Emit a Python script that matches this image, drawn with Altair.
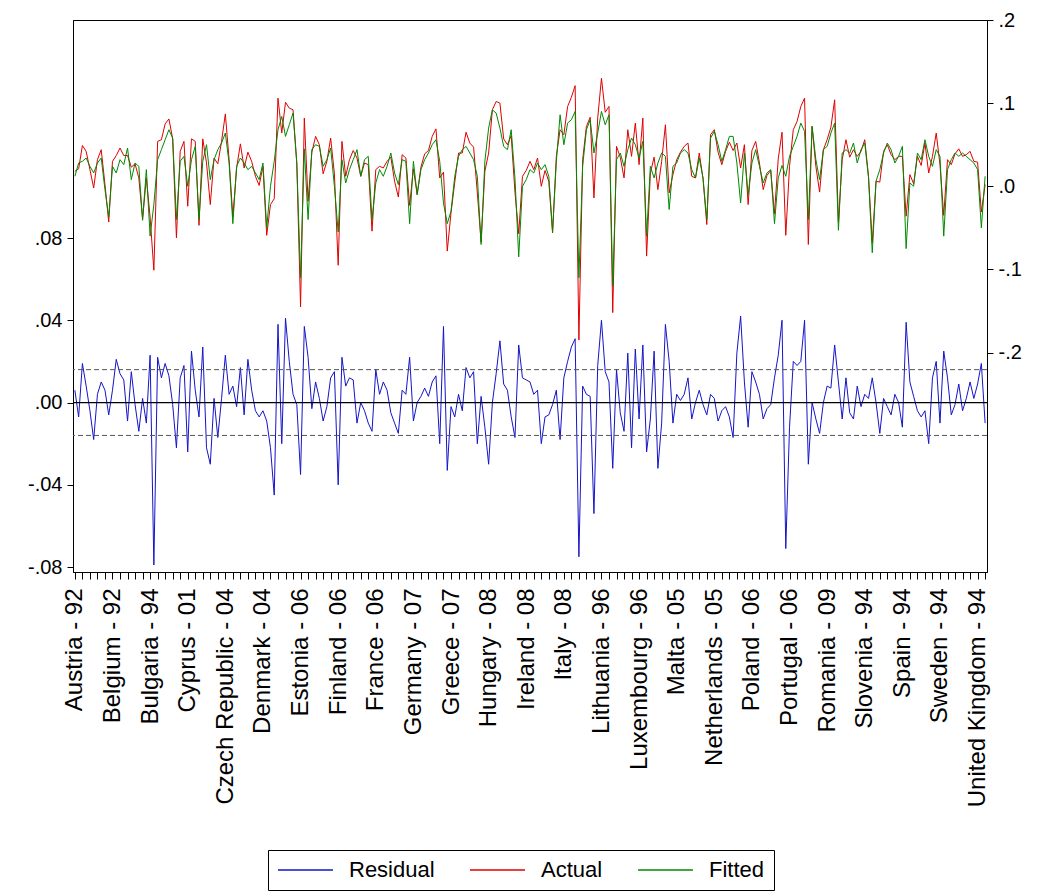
import json
import altair as alt
import pandas as pd

# x-axis category labels (one every 10 observations)
labels = ["Austria - 92", "Belgium - 92", "Bulgaria - 94", "Cyprus - 01",
          "Czech Republic - 04", "Denmark - 04", "Estonia - 06", "Finland - 06",
          "France - 06", "Germany - 07", "Greece - 07", "Hungary - 08",
          "Ireland - 08", "Italy - 08", "Lithuania - 96", "Luxembourg - 96",
          "Malta - 05", "Netherlands - 05", "Poland - 06", "Portugal - 06",
          "Romania - 09", "Slovenia - 94", "Spain - 94", "Sweden - 94",
          "United Kingdom - 94"]

series_names = ["Residual", "Actual", "Fitted"]

fitted = [
    0.012, 0.028, 0.030, 0.034, 0.024, 0.016, 0.028, 0.034, -0.004, -0.037,
    0.024, 0.016, 0.032, 0.026, 0.046, 0.008, 0.028, 0.024, -0.041, 0.020,
    -0.060, -0.022, 0.032, 0.044, 0.056, 0.068, 0.058, -0.040, 0.030, 0.036,
    0.000, 0.032, 0.048, -0.040, 0.030, 0.050, 0.008, 0.032, 0.044, 0.052,
    0.064, 0.028, -0.045, 0.024, 0.034, 0.028, 0.020, 0.024, 0.016, 0.008,
    0.028, -0.050, 0.000, 0.030, 0.068, 0.084, 0.060, 0.074, 0.088, 0.028,
    -0.110, 0.045, -0.040, 0.044, 0.050, 0.048, 0.024, 0.032, 0.046, 0.000,
    -0.055, 0.032, 0.004, 0.020, 0.032, 0.044, 0.012, 0.032, 0.036, -0.040,
    0.004, 0.020, 0.012, 0.024, 0.040, 0.016, 0.002, 0.032, 0.030, -0.045,
    0.030, -0.010, 0.020, 0.032, 0.040, 0.050, 0.056, 0.030, -0.020, -0.045,
    -0.030, 0.012, 0.036, 0.044, 0.048, 0.040, 0.032, 0.012, -0.070, 0.030,
    0.070, 0.092, 0.088, 0.070, 0.048, 0.044, 0.068, 0.010, -0.085, 0.000,
    0.008, 0.020, 0.016, 0.028, 0.020, 0.026, 0.012, -0.055, 0.030, 0.086,
    0.050, 0.076, 0.080, 0.090, -0.110, 0.024, 0.068, 0.080, 0.040, 0.064,
    0.090, 0.074, 0.086, -0.120, 0.032, 0.040, 0.024, 0.044, 0.058, 0.050,
    0.034, 0.054, -0.060, 0.024, 0.010, 0.028, 0.040, 0.036, -0.028, 0.024,
    0.028, 0.040, 0.044, 0.040, 0.020, 0.010, 0.034, 0.010, -0.040, 0.058,
    0.066, 0.050, 0.030, 0.044, 0.060, 0.060, 0.028, -0.020, 0.040, -0.010,
    0.028, 0.044, 0.024, 0.004, 0.016, 0.020, -0.045, 0.010, 0.025, 0.012,
    0.036, 0.048, 0.060, 0.076, 0.066, -0.040, 0.072, 0.032, 0.008, 0.044,
    0.048, 0.064, 0.076, -0.053, 0.040, 0.044, 0.040, 0.052, 0.028, 0.044,
    0.052, 0.010, -0.080, 0.006, 0.020, 0.040, 0.052, 0.044, 0.028, 0.036,
    0.048, -0.075, 0.004, 0.000, 0.040, 0.032, 0.056, 0.036, 0.024, 0.044,
    0.036, -0.060, 0.020, 0.032, 0.040, 0.036, 0.040, 0.036, 0.032, 0.028,
    0.020, -0.050, 0.012,
]

residual = [
    0.006, -0.007, 0.019, 0.008, -0.004, -0.018, 0.004, 0.010, 0.006, -0.006,
    0.006, 0.021, 0.014, 0.011, -0.009, 0.015, -0.001, -0.014, 0.002, -0.010,
    0.023, -0.079, 0.022, 0.012, 0.019, 0.013, -0.001, -0.022, 0.012, 0.018,
    -0.024, 0.025, 0.006, -0.007, 0.027, -0.022, -0.030, 0.002, -0.017, 0.002,
    0.023, 0.004, 0.008, -0.002, 0.017, -0.006, 0.021, 0.006, -0.004, -0.007,
    -0.004, -0.009, -0.022, -0.045, 0.038, -0.020, 0.041, 0.020, 0.004, -0.001,
    -0.035, 0.037, 0.022, -0.003, 0.010, 0.002, -0.009, -0.002, 0.012, 0.015,
    -0.040, 0.022, 0.008, 0.012, 0.011, -0.010, 0.000, -0.004, -0.010, -0.014,
    0.016, 0.004, 0.010, 0.006, -0.005, -0.010, -0.015, 0.006, 0.004, 0.022,
    -0.009, 0.000, 0.003, 0.007, 0.003, 0.010, 0.013, -0.020, 0.037, -0.033,
    -0.002, -0.007, 0.004, -0.004, 0.017, 0.012, 0.015, -0.020, 0.003, -0.012,
    -0.030, 0.000, 0.014, 0.030, 0.009, 0.006, -0.007, -0.017, 0.028, 0.012,
    0.011, 0.010, 0.004, 0.006, -0.020, -0.007, -0.006, -0.001, 0.006, -0.018,
    0.012, 0.020, 0.027, 0.031, -0.075, 0.008, 0.004, 0.003, -0.054, 0.018,
    0.040, 0.015, 0.010, -0.032, 0.016, -0.005, -0.014, 0.024, -0.022, 0.026,
    -0.008, 0.028, -0.024, -0.008, 0.025, -0.032, -0.010, 0.038, 0.020, -0.010,
    0.004, 0.001, 0.004, 0.012, -0.008, 0.000, 0.006, -0.001, -0.006, 0.004,
    0.002, -0.009, -0.004, -0.002, -0.007, -0.017, 0.024, 0.042, 0.010, -0.012,
    0.015, 0.010, 0.004, -0.008, -0.003, -0.001, 0.012, 0.023, 0.040, -0.071,
    -0.012, 0.020, 0.018, 0.020, 0.040, -0.030, 0.000, -0.008, -0.015, 0.000,
    0.008, 0.007, 0.028, 0.010, -0.008, 0.012, -0.005, -0.008, 0.008, -0.002,
    0.004, 0.002, 0.012, 0.000, -0.015, 0.002, -0.002, -0.006, 0.004, 0.000,
    -0.012, 0.039, 0.010, 0.003, -0.004, -0.007, -0.004, -0.020, 0.012, 0.020,
    -0.010, 0.025, 0.012, -0.006, -0.001, 0.009, -0.004, 0.002, 0.010, 0.002,
    0.009, 0.019, -0.010,
]

band = [-0.016, 0.016]  # +/- 1 standard error band on residuals

n = min(len(fitted), len(residual))
obs = list(range(n))
actual = [round(fitted[i] + residual[i], 4) for i in range(n)]

df_res = pd.DataFrame({"obs": obs, "value": residual[:n], "series": "Residual"})
df_act = pd.DataFrame({"obs": obs, "value": actual, "series": "Actual"})
df_fit = pd.DataFrame({"obs": obs, "value": fitted[:n], "series": "Fitted"})

FONT = "Liberation Sans"
BLUE, RED, GREEN = "#1414c8", "#e00000", "#008a00"

color = alt.Color(
    "series:N",
    scale=alt.Scale(domain=series_names, range=[BLUE, RED, GREEN]),
    legend=alt.Legend(
        orient="none", legendX=195, legendY=830, direction="horizontal",
        title=None, symbolType="stroke", symbolSize=3025, symbolStrokeWidth=1.5,
        labelFontSize=22, labelFont=FONT, labelColor="black", labelOffset=15,
        columnPadding=34, padding=9, strokeColor="black", fillColor="white",
        clipHeight=22, labelLimit=400,
    ),
)

label_expr_x = ("datum.value % 10 == 0 ? " + json.dumps(labels)
                + "[datum.value / 10] : ''")

x_enc = alt.X(
    "obs:Q",
    scale=alt.Scale(domain=[-0.5, n - 0.5], nice=False, zero=False),
    axis=alt.Axis(
        values=list(range(0, n, 2)), labelExpr=label_expr_x, labelAngle=-90,
        labelOverlap=False, labelBound=False, labelFlush=False, labelLimit=400,
        labelFontSize=24, labelFont=FONT, labelColor="black", labelPadding=9,
        tickSize=7, tickColor="black", domainColor="black", grid=False, title=None,
    ),
)

left_scale = alt.Scale(domain=[-0.0824, 0.186], nice=False, zero=False)
right_scale = alt.Scale(domain=[-0.464, 0.2], nice=False, zero=False)

left_axis = alt.Axis(
    orient="left", values=[-0.08, -0.04, 0, 0.04, 0.08],
    labelExpr=("datum.value > 0.06 ? '.08' : datum.value > 0.02 ? '.04' : "
               "datum.value > -0.02 ? '.00' : datum.value > -0.06 ? '-.04' : '-.08'"),
    labelFontSize=20, labelFont=FONT, labelColor="black", labelPadding=5,
    tickSize=6, tickColor="black", domainColor="black", grid=False, title=None,
    labelFlush=False, labelBound=False,
)
right_axis = alt.Axis(
    orient="right", values=[-0.2, -0.1, 0, 0.1, 0.2],
    labelExpr=("datum.value > 0.15 ? '.2' : datum.value > 0.05 ? '.1' : "
               "datum.value > -0.05 ? '.0' : datum.value > -0.15 ? '-.1' : '-.2'"),
    labelFontSize=20, labelFont=FONT, labelColor="black", labelPadding=5,
    tickSize=6, tickColor="black", domainColor="black", grid=False, title=None,
    labelFlush=False, labelBound=False,
)

resid_line = alt.Chart(df_res).mark_line(strokeWidth=1).encode(
    x=x_enc, y=alt.Y("value:Q", scale=left_scale, axis=left_axis), color=color,
)
zero_rule = alt.Chart(pd.DataFrame({"v": [0.0]})).mark_rule(
    color="black", strokeWidth=1.2
).encode(y=alt.Y("v:Q", scale=left_scale, axis=left_axis))
band_rule = alt.Chart(pd.DataFrame({"v": band})).mark_rule(
    color="#555555", strokeWidth=1, strokeDash=[5, 3]
).encode(y=alt.Y("v:Q", scale=left_scale, axis=left_axis))

act_line = alt.Chart(df_act).mark_line(strokeWidth=1).encode(
    x=x_enc, y=alt.Y("value:Q", scale=right_scale, axis=right_axis), color=color,
)
fit_line = alt.Chart(df_fit).mark_line(strokeWidth=1).encode(
    x=x_enc, y=alt.Y("value:Q", scale=right_scale, axis=right_axis), color=color,
)

left = alt.layer(resid_line, band_rule, zero_rule)
right = alt.layer(act_line, fit_line)

chart = alt.layer(left, right).resolve_scale(y="independent").properties(
    width=914, height=552,
    autosize=alt.AutoSizeParams(type="none"),
    padding={"left": 73, "top": 20, "right": 52, "bottom": 323},
    background="white",
).configure_view(stroke="black", strokeWidth=1)

chart.save("out.html", embed_options={"renderer": "svg", "actions": False})
